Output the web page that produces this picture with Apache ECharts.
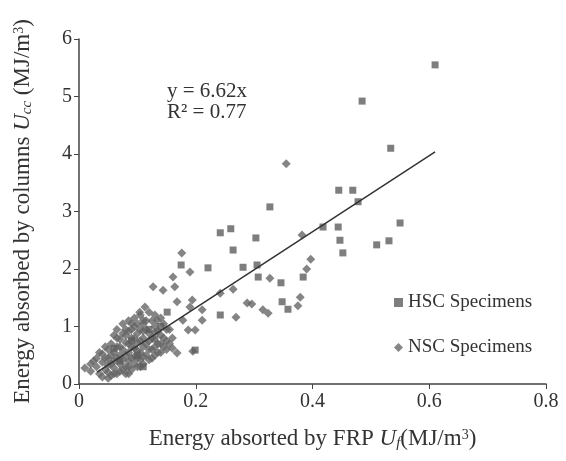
<!DOCTYPE html>
<html><head><meta charset="utf-8">
<script src="https://cdn.jsdelivr.net/npm/echarts@6/dist/echarts.min.js"></script>
<style>html,body{margin:0;padding:0;background:#fff}#c{width:566px;height:461px}</style>
</head><body><div id="c"></div>
<script>
const xTicks = ['0','0.2','0.4','0.6','0.8'];
const yTicks = ['0','1','2','3','4','5','6'];
const hscPoints = [
 [0.61,5.55],[0.485,4.92],[0.534,4.10],[0.445,3.37],[0.469,3.37],[0.478,3.17],
 [0.418,2.73],[0.444,2.73],[0.447,2.50],[0.452,2.28],[0.55,2.80],[0.531,2.49],[0.51,2.42],
 [0.327,3.08],[0.242,2.63],[0.26,2.70],[0.303,2.54],[0.264,2.33],[0.221,2.02],[0.281,2.03],
 [0.305,2.07],[0.307,1.86],[0.346,1.76],[0.384,1.86],[0.348,1.43],[0.358,1.30],[0.242,1.20],
 [0.175,2.07],[0.151,1.25],[0.199,0.59],[0.09,0.75],[0.12,0.95],[0.10,0.50],[0.14,1.00],
 [0.07,0.40],[0.06,0.62],[0.13,0.78],[0.11,0.30]
];
const nscPoints = [
 [0.355,3.83],[0.382,2.59],[0.397,2.17],[0.39,2.00],[0.327,1.84],[0.379,1.51],[0.375,1.36],
 [0.296,1.39],[0.288,1.41],[0.324,1.23],[0.315,1.29],[0.269,1.16],[0.264,1.65],[0.242,1.58],
 [0.176,2.28],[0.161,1.86],[0.19,1.95],[0.127,1.69],[0.144,1.63],[0.164,1.69],[0.194,1.46],
 [0.19,1.34],[0.168,1.43],[0.113,1.34],[0.104,1.25],[0.134,1.11],[0.11,1.11],[0.178,1.11],
 [0.187,0.94],[0.199,0.94],[0.168,0.54],[0.211,1.29],[0.211,1.11],[0.195,0.57],
 [0.01,0.28],[0.02,0.35],[0.02,0.22],[0.03,0.45],[0.03,0.30],[0.035,0.18],[0.04,0.52],
 [0.04,0.38],[0.04,0.12],[0.045,0.25],[0.05,0.60],[0.05,0.45],[0.05,0.33],[0.05,0.20],
 [0.055,0.70],[0.055,0.15],[0.06,0.85],[0.06,0.55],[0.06,0.40],[0.06,0.28],[0.065,0.95],
 [0.065,0.65],[0.065,0.18],[0.07,0.78],[0.07,0.50],[0.07,0.35],[0.07,0.22],[0.075,1.05],
 [0.075,0.88],[0.075,0.60],[0.075,0.42],[0.08,0.72],[0.08,0.30],[0.08,0.18],[0.085,1.10],
 [0.085,0.92],[0.085,0.55],[0.085,0.40],[0.09,0.80],[0.09,0.65],[0.09,0.25],[0.095,1.15],
 [0.095,1.00],[0.095,0.48],[0.095,0.35],[0.10,0.88],[0.10,0.72],[0.10,0.58],[0.10,0.30],
 [0.105,1.20],[0.105,0.42],[0.11,1.05],[0.11,0.80],[0.11,0.65],[0.11,0.35],[0.115,0.95],
 [0.115,0.50],[0.12,1.25],[0.12,0.75],[0.12,0.42],[0.125,1.10],[0.125,0.60],[0.13,0.90],
 [0.13,0.50],[0.135,0.70],[0.14,0.85],[0.14,0.55],[0.145,0.65],[0.15,0.75],[0.15,0.60],
 [0.155,0.95],[0.16,0.80],[0.145,1.05],[0.13,1.20],[0.105,0.95],[0.08,0.95],[0.09,1.05],
 [0.025,0.40],[0.035,0.55],[0.045,0.65],[0.045,0.45],[0.055,0.50],[0.055,0.35],[0.065,0.45],
 [0.065,0.80],[0.07,0.65],[0.075,0.25],[0.08,0.50],[0.08,0.85],[0.085,0.70],[0.085,0.30],
 [0.09,0.95],[0.09,0.45],[0.095,0.62],[0.095,0.80],[0.10,1.05],[0.10,0.45],[0.105,0.75],
 [0.105,0.55],[0.11,0.92],[0.11,0.48],[0.115,0.70],[0.115,1.10],[0.12,0.60],[0.12,0.88],
 [0.125,0.45],[0.125,0.80],[0.13,1.00],[0.13,0.65],[0.135,0.55],[0.135,0.92],[0.14,0.70],
 [0.14,1.15],[0.145,0.80],[0.15,0.95],[0.155,0.70],[0.16,0.62],[0.06,0.18],[0.05,0.10],
 [0.085,0.18],[0.105,0.30]
];
const trendX = [0.031, 0.61];
const slope = 6.62;
const r2 = 0.77;
const trendLine = trendX.map(x => [x, +(slope*x).toFixed(3)]);

const ff = '"Liberation Serif","DejaVu Serif",serif';
const chart = echarts.init(document.getElementById('c'));
const rich = {
  t:{fontFamily:ff,fontSize:23,color:'#333'},
  i:{fontFamily:ff,fontSize:23,fontStyle:'italic',color:'#333'},
  sub:{fontFamily:ff,fontSize:15,fontStyle:'italic',color:'#333',padding:[10,0,0,0]},
  sup:{fontFamily:ff,fontSize:14,color:'#333',padding:[0,0,7,0]}
};
chart.setOption({
  animation:false,
  grid:{left:79,right:20,top:39,bottom:77},
  xAxis:{type:'value',min:0,max:0.8,interval:0.2,
    name:'{t|Energy absorted by FRP }{i|U}{sub|f}{t|(MJ/m}{sup|3}{t|)}',
    nameLocation:'middle',nameGap:42,nameTextStyle:{rich},
    axisLine:{lineStyle:{color:'#444',width:1.5}},
    axisTick:{show:true,length:5,lineStyle:{color:'#444'}},
    splitLine:{show:false},
    axisLabel:{fontFamily:ff,fontSize:20,color:'#333',margin:8,
      formatter:(v)=>xTicks[Math.round(v/0.2)]}},
  yAxis:{type:'value',min:0,max:6,interval:1,
    name:'{t|Energy absorbed by columns }{i|U}{sub|cc}{t| (MJ/m}{sup|3}{t|)}',
    nameLocation:'middle',nameGap:44,nameTextStyle:{rich},
    axisLine:{show:true,lineStyle:{color:'#444',width:1.5}},
    axisTick:{show:true,length:5,lineStyle:{color:'#444'}},
    splitLine:{show:false},
    axisLabel:{fontFamily:ff,fontSize:20,color:'#333',margin:7,
      formatter:(v)=>yTicks[Math.round(v)]}},
  legend:{orient:'vertical',left:389,top:288,itemGap:26,itemWidth:9,itemHeight:9,
    textStyle:{fontFamily:ff,fontSize:19,color:'#333'},
    data:[{name:'HSC Specimens',icon:'rect'},{name:'NSC Specimens',icon:'diamond'}]},
  graphic:[{type:'text',left:167,top:81,style:{text:'y = 6.62x\nR² = '+r2.toFixed(2),
    font:'21px '+ff,fill:'#333',lineHeight:21}}],
  series:[
    {name:'NSC Specimens',type:'scatter',symbol:'diamond',symbolSize:9,
     itemStyle:{color:'#666'},data:nscPoints,z:2},
    {name:'HSC Specimens',type:'scatter',symbol:'rect',symbolSize:7,
     itemStyle:{color:'#5e5e5e'},data:hscPoints,z:3},
    {name:'trend',type:'line',data:trendLine,showSymbol:false,symbol:'none',
     lineStyle:{color:'#333',width:1.5},z:4}
  ]
});
</script></body></html>
